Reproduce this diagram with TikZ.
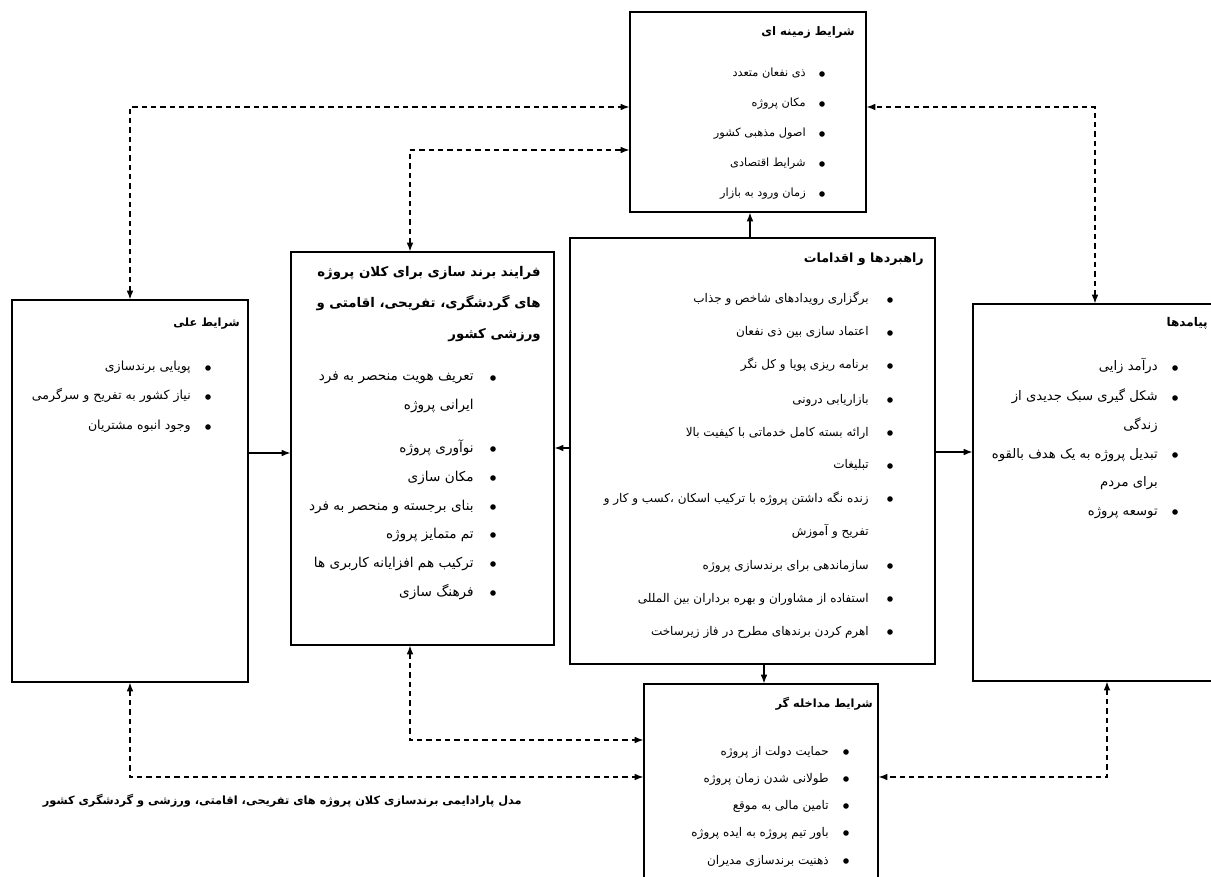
\documentclass[tikz,border=0pt]{standalone}
\usepackage{fontspec}
\usetikzlibrary{fit,arrows.meta}
\newfontfamily\fa[Script=Arabic]{DejaVu Sans}
\TeXXeTstate=1

\tikzset{
  panel/.style={draw, line width=1pt, inner sep=0pt},
  headtext/.style={font=\fa\bfseries\fontsize{#1}{23.25}\selectfont, inner sep=0pt, anchor=base east},
  headtext/.default=8.5,
  itemtext/.style={font=\fa\fontsize{#1}{12}\selectfont, inner sep=0pt, anchor=base east},
  itemtext/.default=8.5,
  dashline/.style={dash pattern=on 4pt off 3pt, line width=0.8pt, >={Latex[length=6.5pt,width=5pt]}},
  solidline/.style={line width=0.8pt, >={Latex[length=6.5pt,width=5pt]}},
}

\begin{document}
\begin{tikzpicture}[x=0.75pt, y=-0.75pt]
    \useasboundingbox (0,0) rectangle (1211,877);

    % Boxes
    \node[panel, fit={(630,12) (866,212)}] (ctx) {};
    \node[panel, fit={(570,238) (935,664)}] (str) {};
    \node[panel, fit={(291,252) (554,645)}] (proc) {};
    \node[panel, fit={(12,300) (248,682)}] (cause) {};
    \node[panel, fit={(973,304) (1216,681)}] (out) {};
    \node[panel, fit={(644,684) (878,882)}] (intv) {};

    % Titles
    \node[headtext=8.8] (ctx-head) at (855,36) {\beginR شرایط زمینه ای\endR};
    \node[headtext=9.5] (str-head) at (924,263) {\beginR راهبردها و اقدامات\endR};
    \node[headtext=10, align=right, anchor=north east] (proc-head) at (541,266)
        {\beginR فرایند برند سازی برای کلان پروژه\endR\\
         \beginR های گردشگری، تفریحی، اقامتی و\endR\\
         \beginR ورزشی کشور\endR};
    \node[headtext=8.5] (cause-head) at (240,327) {\beginR شرایط علی\endR};
    \node[headtext=9] (out-head) at (1208,327) {\beginR پیامدها\endR};
    \node[headtext] (intv-head) at (873,707) {\beginR شرایط مداخله گر\endR};
    \node[headtext] (caption) at (522,804)
        {\beginR مدل پارادایمی برندسازی کلان پروژه های تفریحی، اقامتی، ورزشی و گردشگری کشور\endR};

    % Items
    \foreach \yy/\bul/\txt [count=\i] in {74/1/ذی نفعان متعدد, 104/1/مکان پروژه,
        134/1/اصول مذهبی کشور, 164/1/شرایط اقتصادی, 194/1/زمان ورود به بازار}{
        \node[itemtext=8.5] (ctx-\i) at (806,\yy+3) {\beginR\txt\endR};
        \ifnum\bul=1 \fill (822,\yy) circle[radius=2.1pt];\fi
    }
    \foreach \yy/\bul/\txt [count=\i] in {300/1/برگزاری رویدادهای شاخص و جذاب,
        333/1/اعتماد سازی بین ذی نفعان, 366/1/برنامه ریزی پویا و کل نگر,
        400/1/بازاریابی درونی, 433/1/ارائه بسته کامل خدماتی با کیفیت بالا,
        466/1/تبلیغات, 499/1/زنده نگه داشتن پروژه با ترکیب اسکان ،کسب و کار و,
        532/0/تفریح و آموزش, 566/1/سازماندهی برای برندسازی پروژه,
        599/1/استفاده از مشاوران و بهره برداران بین المللی,
        632/1/اهرم کردن برندهای مطرح در فاز زیرساخت}{
        \node[itemtext=9] (str-\i) at (869,\yy+3) {\beginR\txt\endR};
        \ifnum\bul=1 \fill (890,\yy) circle[radius=2.1pt];\fi
    }
    \foreach \yy/\bul/\txt [count=\i] in {378/1/تعریف هویت منحصر به فرد,
        407/0/ایرانی پروژه, 449/1/نوآوری پروژه, 478/1/مکان سازی,
        507/1/بنای برجسته و منحصر به فرد, 535/1/تم متمایز پروژه,
        564/1/ترکیب هم افزایانه کاربری ها, 593/1/فرهنگ سازی}{
        \node[itemtext=10.2] (proc-\i) at (474,\yy+3) {\beginR\txt\endR};
        \ifnum\bul=1 \fill (493,\yy) circle[radius=2.1pt];\fi
    }
    \foreach \yy/\bul/\txt [count=\i] in {368/1/پویایی برندسازی,
        397/1/نیاز کشور به تفریح و سرگرمی, 427/1/وجود انبوه مشتریان}{
        \node[itemtext=9.4] (cause-\i) at (191,\yy+3) {\beginR\txt\endR};
        \ifnum\bul=1 \fill (208,\yy) circle[radius=2.1pt];\fi
    }
    \foreach \yy/\bul/\txt [count=\i] in {368/1/درآمد زایی,
        398/1/شکل گیری سبک جدیدی از, 427/0/زندگی,
        455/1/تبدیل پروژه به یک هدف بالقوه, 483/0/برای مردم, 512/1/توسعه پروژه}{
        \node[itemtext=9.9] (out-\i) at (1158,\yy+3) {\beginR\txt\endR};
        \ifnum\bul=1 \fill (1175,\yy) circle[radius=2.1pt];\fi
    }
    \foreach \yy/\bul/\txt [count=\i] in {752/1/حمایت دولت از پروژه,
        779/1/طولانی شدن زمان پروژه, 806/1/تامین مالی به موقع,
        833/1/باور تیم پروژه به ایده پروژه, 861/1/ذهنیت برندسازی مدیران}{
        \node[itemtext=9] (intv-\i) at (829,\yy+3) {\beginR\txt\endR};
        \ifnum\bul=1 \fill (846,\yy) circle[radius=2.1pt];\fi
    }

    % Helper coordinates
    \coordinate (yA) at (0,107);
    \coordinate (yB) at (0,150);
    \coordinate (yC) at (0,740);
    \coordinate (yD) at (0,777);
    \coordinate (yE) at (0,448);
    \coordinate (yF) at (0,453);
    \coordinate (yG) at (0,452);
    \coordinate (xP) at (410,0);
    \coordinate (xQ) at (1095,0);
    \coordinate (xO) at (1107,0);
    \coordinate (xS) at (750,0);
    \coordinate (xT) at (764,0);

    % Dashed arrows
    \draw[dashline, <->] (cause.north) |- (ctx.west |- yA);
    \draw[dashline, <->] (proc.north -| xP) |- (ctx.west |- yB);
    \draw[dashline, <->] (out.north -| xQ) |- (ctx.east |- yA);
    \draw[dashline, <->] (cause.south) |- (intv.west |- yD);
    \draw[dashline, <->] (proc.south -| xP) |- (intv.west |- yC);
    \draw[dashline, <->] (out.south -| xO) |- (intv.east |- yD);

    % Solid arrows
    \draw[solidline, ->] (str.north -| xS) -- (ctx.south -| xS);
    \draw[solidline, ->] (str.south -| xT) -- (intv.north -| xT);
    \draw[solidline, ->] (str.west |- yE) -- (proc.east |- yE);
    \draw[solidline, ->] (cause.east |- yF) -- (proc.west |- yF);
    \draw[solidline, ->] (str.east |- yG) -- (out.west |- yG);
\end{tikzpicture}
\end{document}
